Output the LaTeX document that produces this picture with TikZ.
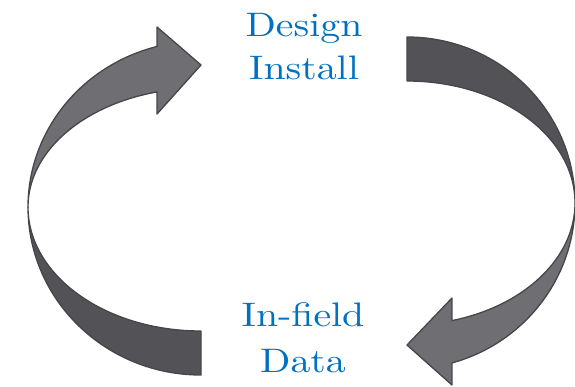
\documentclass[tikz,border=0pt]{standalone}
\usepackage{graphicx}
\DeclareFontFamily{TU}{lmrten}{}
\DeclareFontShape{TU}{lmrten}{m}{n}{<-> \UnicodeFontFile{lmroman10-regular}{\UnicodeFontTeXLigatures}}{}
\definecolor{labelblue}{HTML}{0070C0}
\definecolor{ribbonlight}{HTML}{6F6E73}
\definecolor{ribbondark}{HTML}{535357}
\definecolor{ribbonedge}{HTML}{46464A}
\begin{document}
\begin{tikzpicture}[x=1pt,y=-1pt,
  ribbon/.style={draw=ribbonedge,line width=1.3pt,line join=round},
  steplabel/.style={text=labelblue,font=\fontfamily{lmrten}\fontsize{34}{43}\selectfont,inner sep=0pt,anchor=base}]
\useasboundingbox (0,0) rectangle (575,386);

% left arrow: In-field Data back up to Design
\draw[ribbon,fill=ribbondark] (28,207) arc[start angle=180,end angle=90,x radius=173,y radius=168]
  -- (201,331) arc[start angle=90,end angle=180,x radius=173,y radius=124] -- cycle;
\draw[ribbon,fill=ribbonlight] (28,207) arc[start angle=180,end angle=255.3,x radius=173,y radius=166]
  -- (157,27) -- (201,65) -- (157,114) -- (157.1,91.9)
  arc[start angle=255.3,end angle=180,x radius=173,y radius=119] -- cycle;

% right arrow: Install down to In-field
\draw[ribbon,fill=ribbondark] (407,37) arc[start angle=-90,end angle=0,x radius=168,y radius=166]
  arc[start angle=0,end angle=-90,x radius=168,y radius=122] -- cycle;
\draw[ribbon,fill=ribbonlight] (575,203) arc[start angle=0,end angle=74.5,x radius=168,y radius=166]
  -- (452,385) -- (407,345) -- (452,298) -- (451.9,320.6)
  arc[start angle=74.5,end angle=0,x radius=168,y radius=122] -- cycle;

\node[steplabel] (design) at (304,36) {\scalebox{1.17}[1]{Design}};
\node[steplabel] (install) at (304,79) {\scalebox{1.17}[1]{Install}};
\node[steplabel] (infield) at (303,326) {\scalebox{1.17}[1]{In-field}};
\node[steplabel] (data) at (303,372) {\scalebox{1.17}[1]{Data}};
\end{tikzpicture}
\end{document}
